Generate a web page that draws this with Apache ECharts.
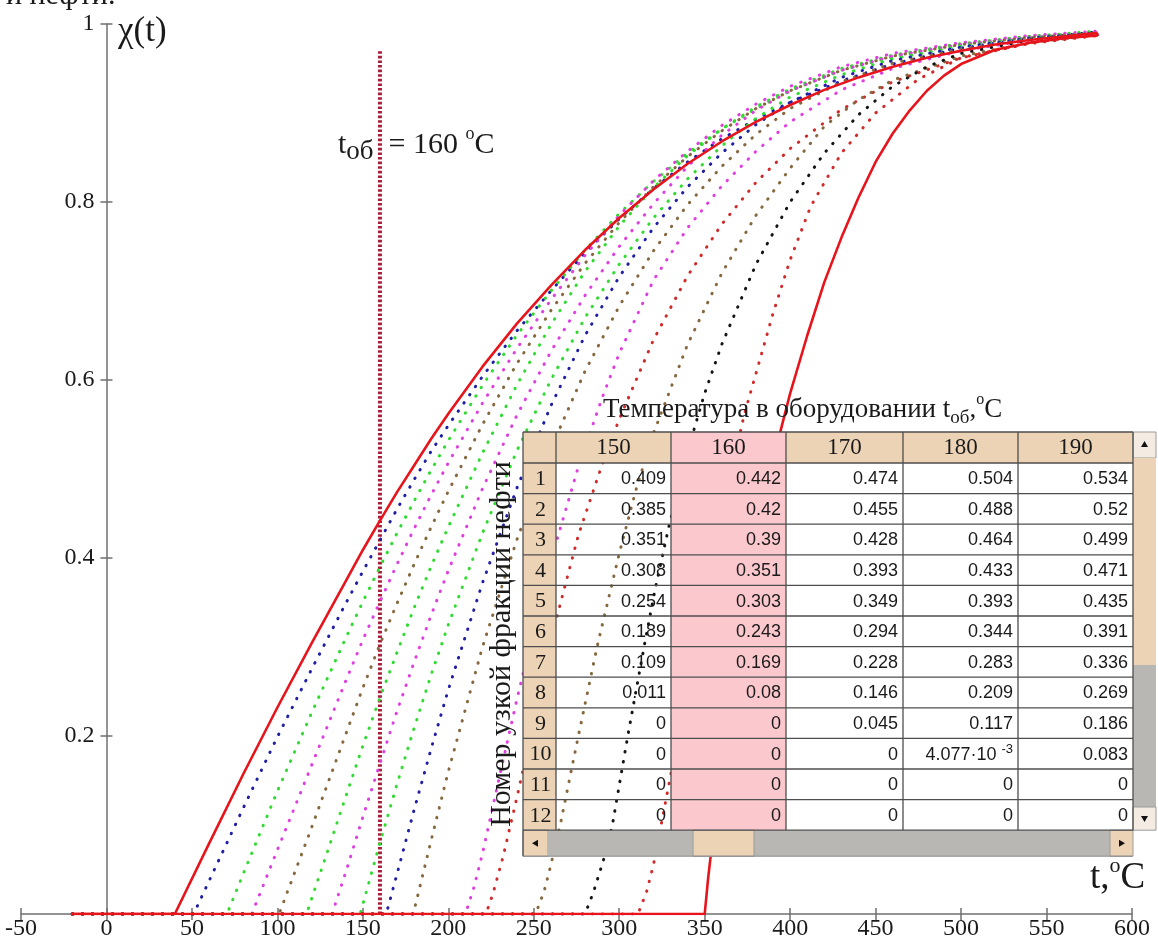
<!DOCTYPE html>
<html lang="ru">
<head>
<meta charset="utf-8">
<title>χ(t)</title>
<script src="https://cdn.jsdelivr.net/npm/echarts@6/dist/echarts.min.js"></script>
<style>
  html, body { margin: 0; padding: 0; background: #ffffff; }
  #chart { width: 1158px; height: 940px; }
</style>
</head>
<body>
<div id="chart"></div>
<script>
// ---------------- Data ----------------
// Equipment temperatures (table columns), °C
const tableTemps = [150, 160, 170, 180, 190];
// Narrow fraction numbers (table rows)
const fractionNumbers = [1, 2, 3, 4, 5, 6, 7, 8, 9, 10, 11, 12];
// χ of fractions 1–12 at each tabulated equipment temperature
const chi150 = [0.409, 0.385, 0.351, 0.308, 0.254, 0.189, 0.109, 0.011, 0, 0, 0, 0];
const chi160 = [0.442, 0.42, 0.39, 0.351, 0.303, 0.243, 0.169, 0.08, 0, 0, 0, 0];
const chi170 = [0.474, 0.455, 0.428, 0.393, 0.349, 0.294, 0.228, 0.146, 0.045, 0, 0, 0];
const chi180 = [0.504, 0.488, 0.464, 0.433, 0.393, 0.344, 0.283, 0.209, 0.117, 0.004077, 0, 0];
const chi190 = [0.534, 0.52, 0.499, 0.471, 0.435, 0.391, 0.336, 0.269, 0.186, 0.083, 0, 0];
// Selected equipment temperature, °C
const equipTemp = 160;
const equipLineTop = 0.97;

// χ(t) of every narrow fraction away from the tabulated temperatures, [t °C, χ]
const fraction1 = [[-20,0],[40,0],[60,0.079],[80,0.157],[100,0.232],[120,0.304],[140,0.374],[200,0.562],[220,0.615],[240,0.663],[260,0.706],[280,0.746],[300,0.782],[320,0.814],[340,0.843],[360,0.868],[380,0.89],[400,0.909],[420,0.926],[440,0.94],[460,0.952],[480,0.962],[500,0.97],[520,0.977],[540,0.982],[560,0.986],[580,0.99]];
const fraction2 = [[-20,0],[51,0],[60,0.037],[80,0.119],[100,0.199],[120,0.275],[140,0.349],[200,0.549],[220,0.604],[240,0.655],[260,0.70],[280,0.743],[300,0.781],[320,0.815],[340,0.845],[360,0.871],[380,0.893],[400,0.912],[430,0.936],[460,0.955],[500,0.973],[540,0.984],[580,0.991]];
const fraction3 = [[-20,0],[70.5,0],[80,0.045],[100,0.138],[120,0.226],[140,0.31],[200,0.532],[220,0.594],[240,0.65],[260,0.70],[280,0.746],[300,0.787],[320,0.823],[340,0.855],[360,0.882],[380,0.905],[400,0.925],[430,0.948],[460,0.963],[500,0.977],[540,0.986],[580,0.992]];
const fraction4 = [[-20,0],[85,0],[100,0.072],[120,0.167],[140,0.262],[200,0.507],[220,0.574],[240,0.635],[260,0.69],[280,0.74],[300,0.785],[320,0.824],[340,0.857],[360,0.886],[380,0.91],[400,0.93],[430,0.952],[460,0.967],[500,0.979],[540,0.987],[580,0.992]];
const fraction5 = [[-20,0],[101,0],[120,0.097],[140,0.202],[200,0.475],[220,0.55],[240,0.618],[260,0.678],[280,0.731],[300,0.777],[320,0.817],[340,0.851],[360,0.88],[380,0.905],[400,0.925],[430,0.948],[460,0.964],[500,0.977],[540,0.985],[580,0.99]];
const fraction6 = [[-20,0],[117,0],[130,0.074],[140,0.132],[200,0.435],[220,0.518],[240,0.594],[260,0.662],[280,0.722],[300,0.773],[320,0.816],[340,0.852],[360,0.882],[380,0.907],[400,0.927],[430,0.95],[460,0.965],[500,0.978],[540,0.986],[580,0.991]];
const fraction7 = [[-20,0],[132,0],[140,0.047],[200,0.386],[220,0.478],[240,0.56],[260,0.632],[280,0.695],[300,0.75],[320,0.798],[340,0.84],[360,0.875],[380,0.903],[400,0.925],[430,0.948],[460,0.964],[500,0.977],[540,0.985],[580,0.99]];
const fraction8 = [[-20,0],[148.4,0],[200,0.325],[220,0.428],[240,0.52],[260,0.6],[280,0.67],[300,0.73],[320,0.782],[340,0.826],[360,0.863],[380,0.894],[400,0.918],[430,0.943],[460,0.961],[500,0.975],[540,0.984],[580,0.99]];
const fraction9 = [[-20,0],[163.7,0],[200,0.252],[220,0.372],[240,0.478],[260,0.571],[280,0.65],[300,0.716],[320,0.771],[340,0.817],[360,0.855],[380,0.887],[400,0.912],[430,0.94],[460,0.959],[500,0.974],[540,0.984],[580,0.99]];
const fraction10 = [[-20,0],[179.5,0],[200,0.16],[220,0.3],[240,0.42],[260,0.523],[280,0.61],[300,0.683],[320,0.745],[340,0.797],[360,0.84],[380,0.876],[400,0.905],[430,0.935],[460,0.956],[500,0.972],[540,0.983],[580,0.989]];
const fraction11 = [[-20,0],[210,0],[215,0.03],[220,0.068],[230,0.155],[240,0.24],[250,0.32],[262,0.41],[276,0.502],[290,0.58],[300,0.63],[320,0.712],[340,0.771],[360,0.818],[380,0.857],[400,0.89],[430,0.926],[460,0.95],[500,0.97],[540,0.982],[580,0.988]];
const fraction12 = [[-20,0],[222,0],[226,0.022],[232,0.064],[240,0.13],[250,0.215],[263,0.33],[276,0.425],[290,0.505],[300,0.556],[320,0.645],[340,0.717],[360,0.775],[380,0.822],[400,0.86],[430,0.904],[460,0.935],[500,0.962],[540,0.978],[580,0.987]];
const fraction13 = [[-20,0],[251,0],[256,0.025],[260,0.055],[266,0.105],[275,0.19],[287,0.3],[300,0.405],[310,0.478],[320,0.54],[340,0.64],[360,0.72],[380,0.785],[400,0.838],[420,0.885],[440,0.915],[460,0.937],[500,0.964],[540,0.979],[580,0.988]];
const fraction14 = [[-20,0],[280,0],[285,0.025],[292,0.068],[296,0.1],[305,0.2],[315,0.305],[321,0.365],[329,0.435],[340,0.52],[350,0.585],[360,0.64],[380,0.73],[400,0.8],[420,0.855],[440,0.898],[460,0.93],[480,0.952],[500,0.967],[540,0.982],[580,0.989]];
const fraction15 = [[-20,0],[311,0],[316,0.025],[320,0.055],[323,0.085],[326,0.115],[330,0.155],[340,0.255],[350,0.35],[360,0.45],[373,0.56],[390,0.675],[400,0.735],[412,0.795],[430,0.855],[450,0.9],[475,0.938],[500,0.962],[540,0.979],[580,0.988]];
const fraction16 = [[-20,0],[350,0],[352,0.04],[355,0.09],[360,0.17],[365,0.24],[370,0.305],[380,0.42],[390,0.51],[400,0.585],[410,0.65],[420,0.71],[430,0.76],[440,0.805],[450,0.845],[460,0.877],[470,0.903],[480,0.925],[490,0.942],[500,0.955],[520,0.971],[540,0.979],[560,0.984],[580,0.987]];

// Axis ticks
const xTickValues = [-50, 0, 50, 100, 150, 200, 250, 300, 350, 400, 450, 500, 550, 600];
const yTickValues = [0, 0.2, 0.4, 0.6, 0.8, 1];

// ---------------- Styling ----------------
const SERIF = '"Liberation Serif", "Times New Roman", serif';
const SANS = '"Liberation Sans", Arial, sans-serif';
const RED = '#e8141c';
const BLUE = '#1e1ea6', GREEN = '#2fdc2f', MAGENTA = '#e03ee0', BROWN = '#86683e', DRED = '#d02a2a', BLACK = '#141414';
const curveColors = [RED, BLUE, GREEN, MAGENTA, BROWN, GREEN, MAGENTA, GREEN, BLUE, BROWN, MAGENTA, DRED, BROWN, BLACK, DRED, RED];
const curveSolid = [true, false, false, false, false, false, false, false, false, false, false, false, false, false, false, true];
const AXIS = '#707070';
const LABEL = '#1a1a1a';

const curves = [fraction1, fraction2, fraction3, fraction4, fraction5, fraction6, fraction7, fraction8,
                fraction9, fraction10, fraction11, fraction12, fraction13, fraction14, fraction15, fraction16];
const tableCols = [chi150, chi160, chi170, chi180, chi190];

// Curve points of a fraction together with its tabulated values
function curveData(k) {
  const pts = curves[k].map(p => p.slice());
  if (k < fractionNumbers.length) {
    tableTemps.forEach((t, j) => pts.push([t, tableCols[j][k]]));
  }
  pts.sort((a, b) => a[0] - b[0]);
  return pts;
}

const series = curves.map((c, k) => ({
  type: 'line',
  name: 'Фракция ' + (k + 1),
  xAxisIndex: 0, yAxisIndex: 0,
  data: curveData(k),
  showSymbol: false,
  symbol: 'none',
  smooth: false,
  silent: true,
  animation: false,
  z: curveSolid[k] ? 4 : 3,
  lineStyle: curveSolid[k]
    ? { color: curveColors[k], width: 2.6, join: 'round' }
    : { color: curveColors[k], width: 3, type: [0.5, 9.5], cap: 'round' }
}));

// Selected equipment temperature marker
series.push({
  type: 'line',
  name: 't_об',
  xAxisIndex: 0, yAxisIndex: 0,
  data: [[equipTemp, 0], [equipTemp, equipLineTop]],
  showSymbol: false,
  symbol: 'none',
  silent: true,
  animation: false,
  z: 2,
  lineStyle: { color: '#a81e3a', width: 4, type: [2.6, 2] }
});

// ---------------- Table and captions ----------------
function buildGraphics() {
  const g = [];
  const rect = (x, y, w, h, fill, stroke) => g.push({
    type: 'rect', silent: true, z: 20,
    shape: { x: x, y: y, width: w, height: h },
    style: { fill: fill, stroke: stroke || null, lineWidth: stroke ? 1 : 0 }
  });
  const line = (x1, y1, x2, y2, color, w) => g.push({
    type: 'line', silent: true, z: 21,
    shape: { x1: x1, y1: y1, x2: x2, y2: y2 },
    style: { stroke: color || '#4e4e4e', lineWidth: w || 1.3 }
  });
  const tri = (pts) => g.push({
    type: 'polygon', silent: true, z: 22,
    shape: { points: pts }, style: { fill: '#111' }
  });
  const text = (x, y, str, style, extra) => g.push(Object.assign({
    type: 'text', silent: true, z: 23, x: x, y: y,
    style: Object.assign({ text: str, fill: LABEL }, style)
  }, extra || {}));

  const TAN = '#edd3b6', PINK = '#fbc8ce', GRAY = '#b9b7b3', BTN = '#f4ece3';
  const colX = [523, 556, 671, 786, 903, 1018, 1133];
  const scrollR = 1156;
  const headTop = 432, headBot = 463, rowH = 30.6;
  const tableBot = headBot + rowH * fractionNumbers.length;
  const barH = 26;

  // cell backgrounds (white cells are left open)
  rect(colX[0], headTop, colX[6] - colX[0], headBot - headTop, TAN);
  rect(colX[0], headBot, colX[1] - colX[0], tableBot - headBot, TAN);
  const sel = tableTemps.indexOf(equipTemp);
  rect(colX[sel + 1], headTop, colX[sel + 2] - colX[sel + 1], tableBot - headTop, PINK);

  // vertical scroll bar
  const vw = scrollR - colX[6];
  rect(colX[6], headTop, vw, 26, BTN, '#9a9a9a');
  rect(colX[6], headTop + 26, vw, 665 - headTop - 26, TAN);
  rect(colX[6], 665, vw, 807 - 665, GRAY);
  rect(colX[6], 807, vw, tableBot - 807, BTN, '#9a9a9a');
  tri([[1144.5, 441], [1141, 447], [1148, 447]]);
  tri([[1144.5, 822], [1141, 816], [1148, 816]]);

  // horizontal scroll bar
  rect(colX[0], tableBot, 548 - colX[0], barH, TAN, '#9a9a9a');
  rect(548, tableBot, 1110 - 548, barH, GRAY);
  rect(693, tableBot, 61, barH, TAN, '#9a9a9a');
  rect(1110, tableBot, colX[6] - 1110, barH, TAN, '#9a9a9a');
  tri([[532, tableBot + 13], [538, tableBot + 9.5], [538, tableBot + 16.5]]);
  tri([[1125, tableBot + 13], [1119, tableBot + 9.5], [1119, tableBot + 16.5]]);

  // grid lines
  line(colX[0], headTop, colX[6], headTop);
  for (let r = 0; r <= fractionNumbers.length; r++) {
    const y = headBot + r * rowH;
    line(colX[0], y, colX[6], y);
  }
  colX.forEach(x => line(x, headTop, x, tableBot));
  line(colX[0], tableBot, colX[0], tableBot + barH);
  line(colX[0], tableBot + barH, colX[6], tableBot + barH, '#8a8a8a', 1);

  // header and row numbers
  tableTemps.forEach((t, j) => {
    text((colX[j + 1] + colX[j + 2]) / 2, (headTop + headBot) / 2, String(t),
      { font: '23px ' + SERIF, align: 'center', verticalAlign: 'middle' });
  });
  fractionNumbers.forEach((n, r) => {
    text((colX[0] + colX[1]) / 2 + 1, headBot + (r + 0.5) * rowH + 1, String(n),
      { font: '22px ' + SERIF, align: 'center', verticalAlign: 'middle' });
  });

  // cell values
  fractionNumbers.forEach((n, r) => {
    tableCols.forEach((col, j) => {
      const v = col[r];
      const x = colX[j + 2] - 5;
      const y = headBot + (r + 0.5) * rowH + 1;
      if (v > 0 && v < 0.01) {
        const e = Math.floor(Math.log10(v));
        const m = (v / Math.pow(10, e)).toFixed(3);
        text(x, y, m + '·10 {sup|' + e + '}', {
          font: '18px ' + SANS, align: 'right', verticalAlign: 'middle', lineHeight: 24,
          rich: { sup: { font: '13px ' + SANS, lineHeight: 14, verticalAlign: 'top' } }
        });
      } else {
        text(x, y, String(v), { font: '18px ' + SANS, align: 'right', verticalAlign: 'middle' });
      }
    });
  });

  // table titles
  text(603, 410, 'Температура в оборудовании t{sub|об},{sup|o}C', {
    font: '27px ' + SERIF, align: 'left', verticalAlign: 'middle', lineHeight: 36,
    rich: {
      sub: { font: '19px ' + SERIF, lineHeight: 19, verticalAlign: 'bottom' },
      sup: { font: '16px ' + SERIF, lineHeight: 20, verticalAlign: 'top' }
    }
  });
  text(502, 644, 'Номер узкой фракции нефти', {
    font: '30px ' + SERIF, align: 'center', verticalAlign: 'middle'
  }, { rotation: Math.PI / 2 });

  // axis captions
  text(118, 32, 'χ(t)', { font: '35px ' + SERIF, align: 'left', verticalAlign: 'middle' });
  text(1090, 878, 't,{sup|o}C', {
    font: '37px ' + SERIF, align: 'left', verticalAlign: 'middle', lineHeight: 46,
    rich: { sup: { font: '22px ' + SERIF, lineHeight: 24, verticalAlign: 'top' } }
  });
  // selected temperature caption
  text(338, 145, 't{sub|об}  = ' + equipTemp + ' {sup|o}C', {
    font: '30px ' + SERIF, align: 'left', verticalAlign: 'middle', lineHeight: 40,
    rich: {
      sub: { font: '27px ' + SERIF, lineHeight: 24, verticalAlign: 'bottom' },
      sup: { font: '18px ' + SERIF, lineHeight: 22, verticalAlign: 'top' }
    }
  });
  // end of the preceding caption line
  text(6, -4, 'и нефти.', { font: '30px ' + SERIF, align: 'left', verticalAlign: 'middle' });
  return g;
}

// ---------------- Chart ----------------
const chart = echarts.init(document.getElementById('chart'), null, { renderer: 'canvas' });
const xMin = xTickValues[0], xMax = xTickValues[xTickValues.length - 1];
const yMin = yTickValues[0], yMax = yTickValues[yTickValues.length - 1];
const xStep = xTickValues[1] - xTickValues[0];
const yStep = yTickValues[1] - yTickValues[0];
const tickStyle = { color: AXIS, width: 1.5 };
const PLOT = { left: 21, right: 26, top: 24, bottom: 26 };

function buildOption(zeroLeft) {
  return {
    animation: false,
    backgroundColor: '#ffffff',
    grid: [
      // plotting area
      Object.assign({ containLabel: false, outerBoundsMode: 'none' }, PLOT),
      // the χ axis, which stands at t = 0
      { left: zeroLeft, right: PLOT.right, top: PLOT.top, bottom: PLOT.bottom, containLabel: false, outerBoundsMode: 'none' }
    ],
    xAxis: [{
      gridIndex: 0, type: 'value', min: xMin, max: xMax, interval: xStep,
      axisLine: { show: true, lineStyle: { color: AXIS, width: 1.5 } },
      axisTick: { show: true, inside: false, length: 6, lineStyle: tickStyle },
      axisLabel: { fontFamily: SERIF, fontSize: 24, color: LABEL, margin: 3 },
      splitLine: { show: false }
    }, {
      gridIndex: 0, type: 'value', position: 'bottom', min: xMin, max: xMax, interval: xStep,
      axisLine: { show: false },
      axisTick: { show: true, inside: true, length: 6, lineStyle: tickStyle },
      axisLabel: { show: false },
      splitLine: { show: false }
    }, {
      gridIndex: 1, type: 'value', min: 0, max: xMax, show: false
    }],
    yAxis: [{
      gridIndex: 0, type: 'value', min: yMin, max: yMax, interval: yStep, show: false
    }, {
      gridIndex: 1, type: 'value', position: 'left', min: yMin, max: yMax, interval: yStep,
      axisLine: { show: true, onZero: false, lineStyle: { color: AXIS, width: 1.5 } },
      axisTick: { show: true, inside: false, length: 6, lineStyle: tickStyle },
      axisLabel: {
        fontFamily: SERIF, fontSize: 24, color: LABEL, margin: 12,
        formatter: v => (v === 0 ? '' : String(Math.round(v * 10) / 10))
      },
      splitLine: { show: false }
    }, {
      gridIndex: 1, type: 'value', position: 'left', min: yMin, max: yMax, interval: yStep,
      axisLine: { show: false, onZero: false },
      axisTick: { show: true, inside: true, length: 6, lineStyle: tickStyle },
      axisLabel: { show: false },
      splitLine: { show: false }
    }],
    series: series,
    graphic: { elements: buildGraphics() }
  };
}

chart.setOption(buildOption(PLOT.left));
// place the χ axis exactly where t = 0 falls on the t axis
const zeroPx = chart.convertToPixel({ xAxisIndex: 0 }, 0);
chart.setOption({ grid: [{}, { left: zeroPx }] });
</script>
</body>
</html>
